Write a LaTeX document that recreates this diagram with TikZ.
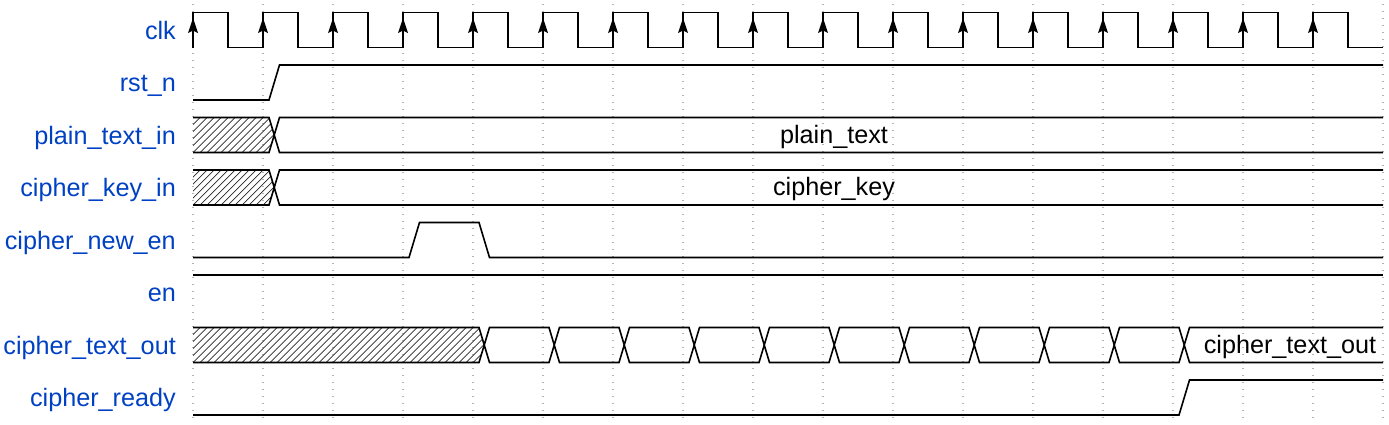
\documentclass[tikz,border=0pt]{standalone}
\usepackage{fontspec}
\setmainfont{Liberation Sans}
\usepackage{xcolor}
\usepackage{tikz}

\definecolor{labelblue}{HTML}{0041C4}

\tikzset{
  wave/.style={line width=1.6pt, line join=miter},
  gridline/.style={gray!60, line width=1.2pt, dash pattern=on 1.2pt off 5.8pt},
  siglabel/.style={anchor=base east, text=labelblue, inner sep=0pt},
  buslabel/.style={anchor=base, inner sep=0pt},
  hatch/.style={line width=0.7pt, black!85},
}

% hatched (unknown) bus value from x=193 up to #1, between #2 (top) and #3 (bottom)
\newcommand{\hatchbus}[3]{%
  \begin{scope}
    \clip (193,#2) -- (#1,#2) -- ({#1+5.25},{(#2+#3)/2}) -- (#1,#3) -- (193,#3) -- cycle;
    \foreach \h in {158,165,...,#1} \draw[hatch] (\h,#3) -- ++(40,-40);
  \end{scope}}

\begin{document}
\begin{tikzpicture}[x=1pt, y=-1pt, font=\fontsize{25.2pt}{30pt}\selectfont]

        \useasboundingbox (0,0) rectangle (1389,424);

        % grid
        \foreach \k in {0,...,17} \draw[gridline] ({193+70*\k},4) -- ({193+70*\k},422);

        % labels
        \node[siglabel] (lclk)   at (176,39)  {clk};
        \node[siglabel] (lrst)   at (176,91.5) {rst\_n};
        \node[siglabel] (lplain) at (176,144) {plain\_text\_in};
        \node[siglabel] (lkey)   at (176,196.5) {cipher\_key\_in};
        \node[siglabel] (lnew)   at (176,249) {cipher\_new\_en};
        \node[siglabel] (len)    at (176,301.5) {en};
        \node[siglabel] (lout)   at (176,354) {cipher\_text\_out};
        \node[siglabel] (lready) at (176,406.5) {cipher\_ready};

        % clk
        \draw[wave] (193,47.5) \foreach \k in {0,...,16} { -- ({193+70*\k},12.5) -- ({228+70*\k},12.5) -- ({228+70*\k},47.5) -- ({263+70*\k},47.5) };
        \foreach \k in {0,...,16} \fill ({193+70*\k},18) -- ++(5,15) -- ++(-5,-2.5) -- ++(-5,2.5) -- cycle;

        % rst_n
        \draw[wave] (193,100) -- (269,100) -- (279.5,65) -- (1383,65);

        % plain_text_in
        \hatchbus{269}{117.5}{152.5}
        \draw[wave] (193,117.5) -- (269,117.5) -- (274.25,135) -- (279.5,117.5) -- (1383,117.5);
        \draw[wave] (193,152.5) -- (269,152.5) -- (274.25,135) -- (279.5,152.5) -- (1383,152.5);
        \node[buslabel] (vplain) at (834,143.3) {plain\_text};

        % cipher_key_in
        \hatchbus{269}{170}{205}
        \draw[wave] (193,170) -- (269,170) -- (274.25,187.5) -- (279.5,170) -- (1383,170);
        \draw[wave] (193,205) -- (269,205) -- (274.25,187.5) -- (279.5,205) -- (1383,205);
        \node[buslabel] (vkey) at (834,195.8) {cipher\_key};

        % cipher_new_en
        \draw[wave] (193,257.5) -- (409,257.5) -- (419.5,222.5) -- (479,222.5) -- (489.5,257.5) -- (1383,257.5);

        % en
        \draw[wave] (193,275) -- (1383,275);

        % cipher_text_out
        \hatchbus{479}{327.5}{362.5}
        \draw[wave] (193,327.5) \foreach \k in {0,...,10} { -- ({479+70*\k},327.5) -- ({484.25+70*\k},345) -- ({489.5+70*\k},327.5) } -- (1383,327.5);
        \draw[wave] (193,362.5) \foreach \k in {0,...,10} { -- ({479+70*\k},362.5) -- ({484.25+70*\k},345) -- ({489.5+70*\k},362.5) } -- (1383,362.5);
        \node[buslabel] (vout) at (1290,353.5) {cipher\_text\_out};

        % cipher_ready
        \draw[wave] (193,415) -- (1179,415) -- (1189.5,380) -- (1383,380);

    \end{tikzpicture}
\end{document}
